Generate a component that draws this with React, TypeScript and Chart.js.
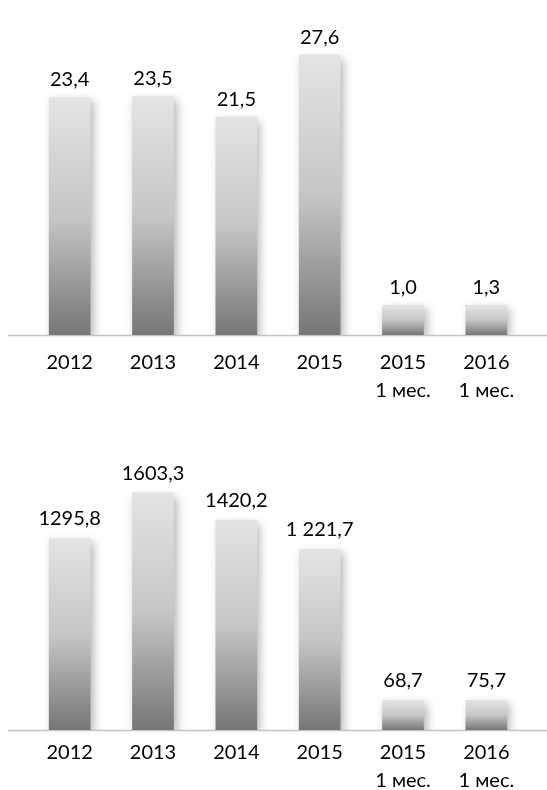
import React, { useEffect, useRef } from 'react';
import { Chart, registerables } from 'chart.js';

Chart.register(...registerables);

const categories: string[][] = [
  ['2012'],
  ['2013'],
  ['2014'],
  ['2015'],
  ['2015', '1 мес.'],
  ['2016', '1 мес.'],
];

const valuesTop = [23.4, 23.5, 21.5, 27.6, 1.0, 1.3];
const valueLabelsTop = ['23,4', '23,5', '21,5', '27,6', '1,0', '1,3'];

const valuesBottom = [1295.8, 1603.3, 1420.2, 1221.7, 68.7, 75.7];
const valueLabelsBottom = ['1295,8', '1603,3', '1420,2', '1 221,7', '68,7', '75,7'];

const FONT = 'Lato, "Open Sans", "DejaVu Sans", sans-serif';
const MIN_BAR = 30;

function BarPanel({
  values,
  valueLabels,
  max,
  tickPad,
  labelGap,
  height,
  axisHeight,
}: {
  values: number[];
  valueLabels: string[];
  max: number;
  tickPad: number;
  labelGap: number;
  height: number;
  axisHeight: number;
}) {
  const ref = useRef<HTMLCanvasElement | null>(null);

  useEffect(() => {
    if (!ref.current) return;
    const decor = {
      id: 'decor',
      beforeDatasetsDraw(chart: any) {
        const ctx = chart.ctx;
        const base = chart.scales.y.getPixelForValue(0);
        ctx.save();
        ctx.strokeStyle = '#c4c4c4';
        ctx.lineWidth = 1.5;
        ctx.beginPath();
        ctx.moveTo(8, base + 0.5);
        ctx.lineTo(chart.width, base + 0.5);
        ctx.stroke();
        ctx.restore();
        ctx.save();
        ctx.shadowColor = 'rgba(0,0,0,0.30)';
        ctx.shadowBlur = 9;
        ctx.shadowOffsetX = 3;
        ctx.shadowOffsetY = 4;
      },
      afterDatasetsDraw(chart: any) {
        const ctx = chart.ctx;
        ctx.restore();
        const meta = chart.getDatasetMeta(0);
        ctx.save();
        ctx.fillStyle = '#000';
        ctx.font = `20px ${FONT}`;
        ctx.textAlign = 'center';
        ctx.textBaseline = 'alphabetic';
        meta.data.forEach((bar: any, i: number) => {
          ctx.fillText(valueLabels[i], bar.x, bar.y - labelGap);
        });
        ctx.restore();
      },
    };

    const chart = new Chart(ref.current, {
      type: 'bar',
      data: {
        labels: categories,
        datasets: [
          {
            data: values,
            borderWidth: 0,
            barPercentage: 0.5,
            categoryPercentage: 1,
            minBarLength: MIN_BAR,
            backgroundColor: (c: any) => {
              const ch = c.chart;
              if (!ch.chartArea || c.type !== 'data') return '#bbbbbb';
              const ys = ch.scales.y;
              const base = ys.getPixelForValue(0);
              let top = ys.getPixelForValue(c.raw);
              if (base - top < MIN_BAR) top = base - MIN_BAR;
              const g = ch.ctx.createLinearGradient(0, top, 0, base);
              g.addColorStop(0, '#e4e4e4');
              g.addColorStop(0.5, '#c6c6c6');
              g.addColorStop(1, '#767676');
              return g;
            },
          },
        ],
      },
      options: {
        animation: false,
        responsive: false,
        maintainAspectRatio: false,
        layout: { padding: { left: 28, right: 19, top: 20, bottom: 0 } },
        plugins: { legend: { display: false }, tooltip: { enabled: false } },
        scales: {
          x: {
            grid: { display: false, drawTicks: false },
            border: { display: false },
            ticks: {
              color: '#000',
              font: { family: FONT, size: 20, lineHeight: 1.4 },
              padding: tickPad,
              maxRotation: 0,
              autoSkip: false,
            },
            afterFit: (s: any) => {
              s.height = axisHeight;
            },
          },
          y: { display: false, min: 0, max },
        },
      },
      plugins: [decor],
    });
    return () => chart.destroy();
  }, [values, valueLabels, max, tickPad, labelGap, height, axisHeight]);

  return (
    <canvas
      ref={ref}
      width={547}
      height={height}
      style={{ display: 'block', width: 547, height }}
    />
  );
}

export default function App() {
  return (
    <div style={{ position: 'absolute', left: 0, top: 0, width: 547, height: 790, background: '#fff' }}>
      <BarPanel
        values={valuesTop}
        valueLabels={valueLabelsTop}
        max={31}
        tickPad={14}
        labelGap={11}
        height={405}
        axisHeight={70}
      />
      <BarPanel
        values={valuesBottom}
        valueLabels={valueLabelsBottom}
        max={2060}
        tickPad={9}
        labelGap={13}
        height={385}
        axisHeight={60}
      />
    </div>
  );
}
